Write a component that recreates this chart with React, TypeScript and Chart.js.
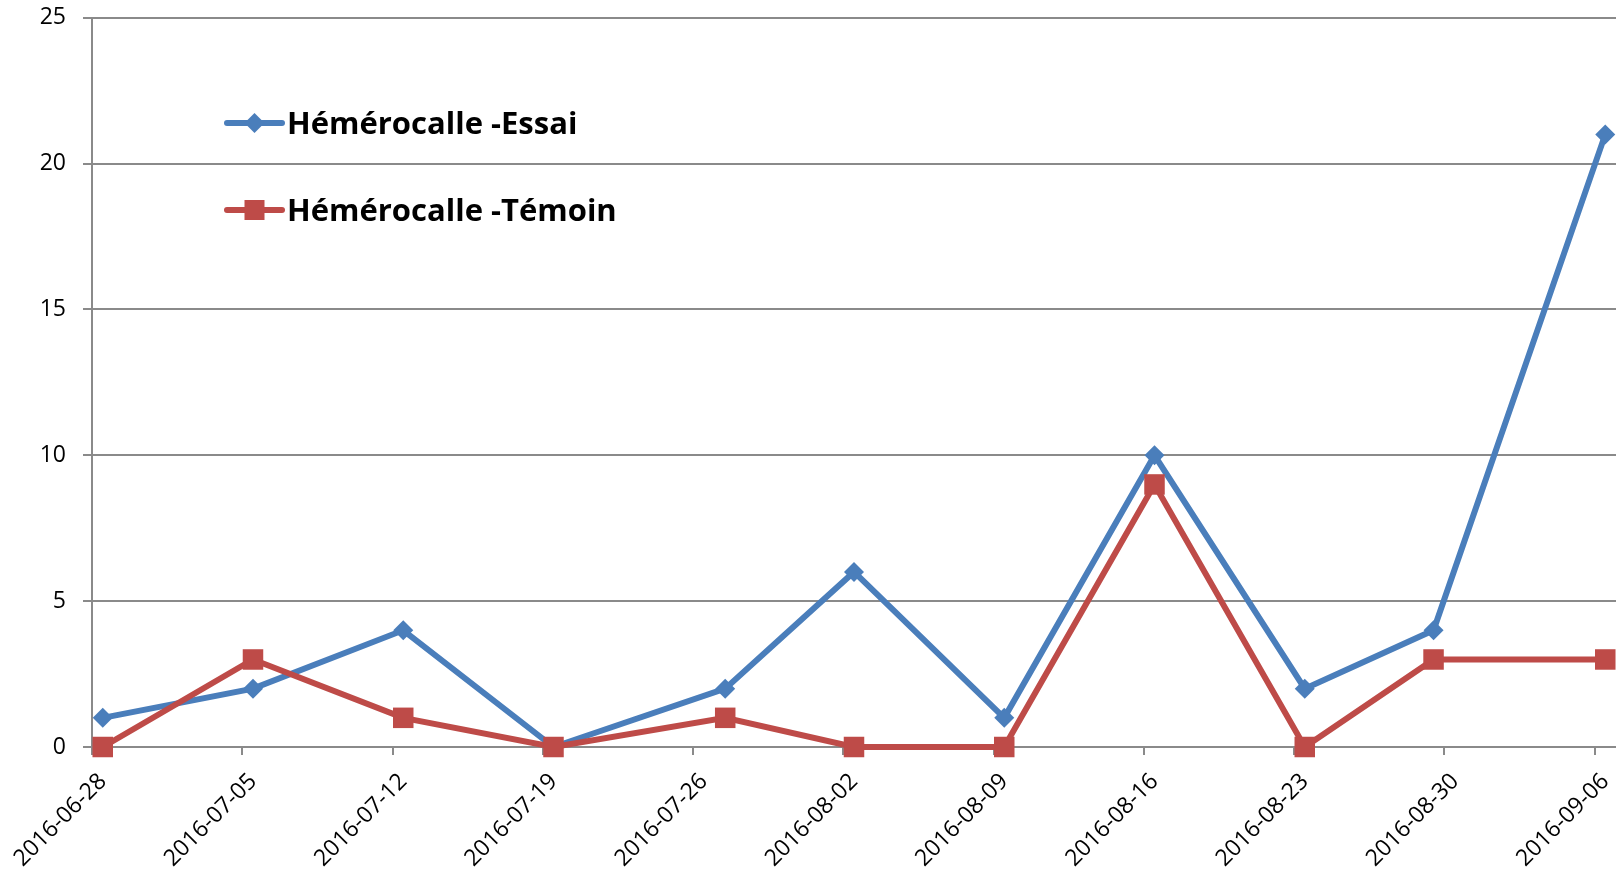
import React, { useEffect, useRef } from 'react';
import { Chart, registerables } from 'chart.js';

Chart.register(...registerables);

// ---- data ----
const dates = [
  '2016-06-28', '2016-07-05', '2016-07-12', '2016-07-19', '2016-07-27', '2016-08-02',
  '2016-08-09', '2016-08-16', '2016-08-23', '2016-08-29', '2016-09-06',
];
const essai = [1, 2, 4, 0, 2, 6, 1, 10, 2, 4, 21];
const temoin = [0, 3, 1, 0, 1, 0, 0, 9, 0, 3, 3];
const tickLabels = [
  '2016-06-28', '2016-07-05', '2016-07-12', '2016-07-19', '2016-07-26', '2016-08-02',
  '2016-08-09', '2016-08-16', '2016-08-23', '2016-08-30', '2016-09-06',
];
const seriesNames = ['Hémérocalle -Essai', 'Hémérocalle -Témoin'];
const yMin = 0;
const yMax = 25;
const yStep = 5;

const BLUE = '#4A7EBB';
const RED = '#BE4B48';
const GRID = '#8A8A8A';
const FONT = '"Open Sans", sans-serif';

const DAY = 86400000;
const startMs = Date.parse(dates[0]);
const dayOf = (d: string) => Math.round((Date.parse(d) - startMs) / DAY);

const legendPlugin = {
  id: 'insideLegend',
  afterDraw(chart: any) {
    const ctx = chart.ctx as CanvasRenderingContext2D;
    const items = [
      { label: seriesNames[0], color: BLUE, shape: 'diamond', y: 123 },
      { label: seriesNames[1], color: RED, shape: 'square', y: 210 },
    ];
    ctx.save();
    for (const it of items) {
      ctx.strokeStyle = it.color;
      ctx.lineWidth = 6;
      ctx.lineCap = 'round';
      ctx.beginPath();
      ctx.moveTo(227, it.y);
      ctx.lineTo(282, it.y);
      ctx.stroke();
      ctx.fillStyle = it.color;
      const cx = 254.5;
      if (it.shape === 'diamond') {
        const r = 10;
        ctx.beginPath();
        ctx.moveTo(cx - r, it.y);
        ctx.lineTo(cx, it.y - r);
        ctx.lineTo(cx + r, it.y);
        ctx.lineTo(cx, it.y + r);
        ctx.closePath();
        ctx.fill();
      } else {
        const s = 10;
        ctx.fillRect(cx - s, it.y - s, 2 * s, 2 * s);
      }
      ctx.fillStyle = '#000';
      ctx.font = `bold 31px ${FONT}`;
      ctx.textBaseline = 'alphabetic';
      ctx.textAlign = 'left';
      ctx.fillText(it.label, 287, it.y + 10.5);
    }
    ctx.restore();
  },
};

export default function App() {
  const ref = useRef<HTMLCanvasElement | null>(null);

  useEffect(() => {
    if (!ref.current) return;
    const days = dates.map(dayOf);
    const lastDay = days[days.length - 1];
    const chart = new Chart(ref.current, {
      type: 'line',
      data: {
        datasets: [
          {
            label: seriesNames[0],
            data: days.map((d, i) => ({ x: d, y: essai[i] })),
            borderColor: BLUE,
            backgroundColor: BLUE,
            borderWidth: 6,
            pointStyle: 'rectRot',
            pointRadius: 10,
            pointBorderWidth: 0,
            pointBackgroundColor: BLUE,
            tension: 0,
            clip: false as any,
            order: 1,
          },
          {
            label: seriesNames[1],
            data: days.map((d, i) => ({ x: d, y: temoin[i] })),
            borderColor: RED,
            backgroundColor: RED,
            borderWidth: 6,
            pointStyle: 'rect',
            pointRadius: 14.5,
            pointBorderWidth: 0,
            pointBackgroundColor: RED,
            tension: 0,
            clip: false as any,
            order: 0,
          },
        ],
      },
      options: {
        animation: false,
        responsive: false,
        devicePixelRatio: 1,
        layout: { autoPadding: false, padding: { top: 17.7, right: 0, left: 0, bottom: 0 } },
        plugins: {
          legend: { display: false },
          tooltip: { enabled: false },
        },
        scales: {
          x: {
            type: 'linear',
            min: -0.5,
            max: lastDay + 0.5,
            afterBuildTicks: (scale: any) => {
              scale.ticks = tickLabels.map((l) => ({ value: dayOf(l) - 0.5 }));
            },
            afterFit: (scale: any) => {
              scale.height = 126;
              scale.paddingLeft = 0;
              scale.paddingRight = 0;
            },
            ticks: {
              autoSkip: false,
              minRotation: 45,
              maxRotation: 45,
              color: '#000',
              padding: 13,
              labelOffset: 11,
              font: { family: FONT, size: 23 },
              callback: (_v: any, i: number) => tickLabels[i],
            },
            grid: {
              drawOnChartArea: false,
              drawTicks: true,
              tickLength: 8,
              color: GRID,
              lineWidth: 2,
            },
            border: { display: true, color: GRID, width: 2 },
          },
          y: {
            min: yMin,
            max: yMax,
            afterFit: (scale: any) => {
              scale.width = 92;
              scale.paddingTop = 0;
              scale.paddingBottom = 0;
            },
            ticks: {
              stepSize: yStep,
              color: '#000',
              padding: 17,
              font: { family: FONT, size: 23 },
            },
            grid: {
              color: GRID,
              lineWidth: 2,
              tickLength: 9,
            },
            border: { display: true, color: GRID, width: 2 },
          },
        },
      },
      plugins: [legendPlugin],
    });
    return () => chart.destroy();
  }, []);

  return (
    <div style={{ position: 'absolute', left: 0, top: 0, width: 1616, height: 873, background: '#fff' }}>
      <canvas ref={ref} width={1616} height={873} style={{ width: 1616, height: 873, display: 'block' }} />
    </div>
  );
}
